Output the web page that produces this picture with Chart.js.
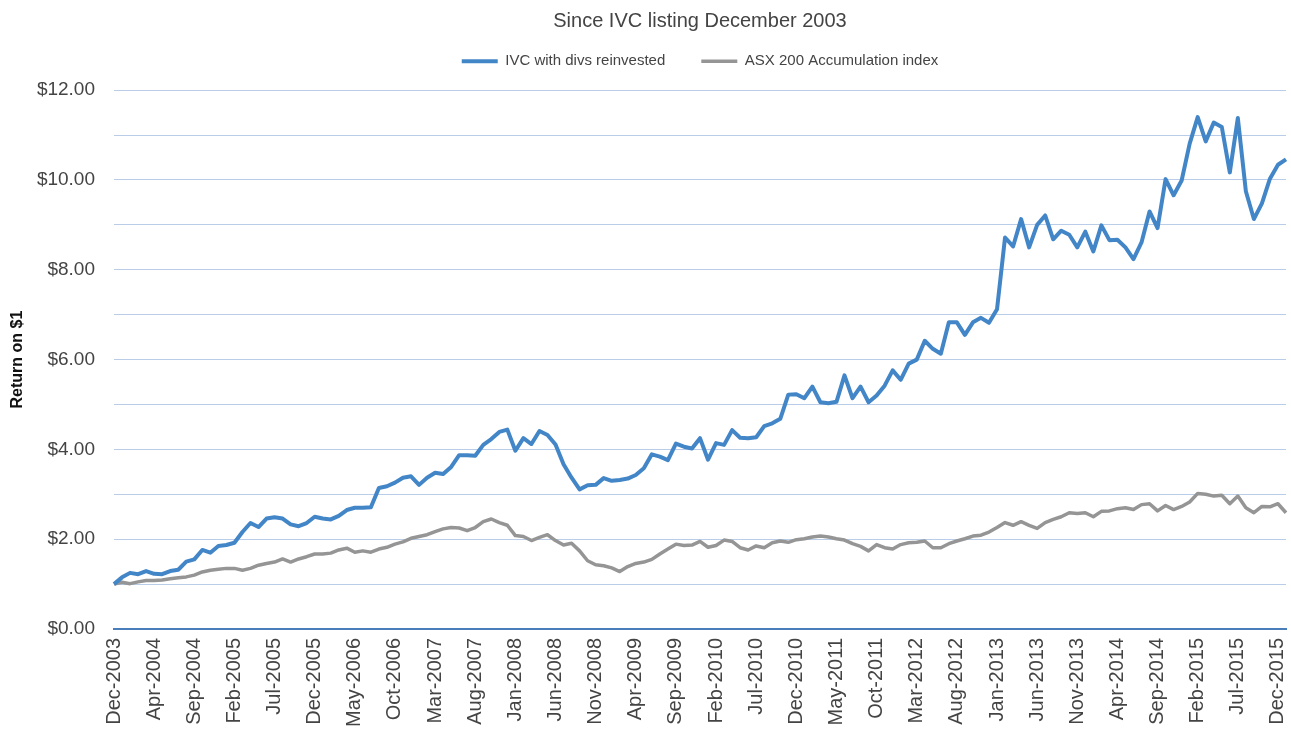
<!DOCTYPE html>
<html>
<head>
<meta charset="utf-8">
<script src="https://cdn.jsdelivr.net/npm/chart.js@4.4.1/dist/chart.umd.min.js"></script>
<style>
  html, body { margin: 0; padding: 0; background: #ffffff; }
  #c { display: block; }
</style>
</head>
<body>
<canvas id="c" width="1291" height="729"></canvas>
<script>
// ---- Data ----
const chartTitle = "Since IVC listing December 2003";
const yAxisTitle = "Return on $1";
const seriesNames = ["IVC with divs reinvested", "ASX 200 Accumulation index"];

const categories = [
  "Dec-2003","Dec-2003",
  "Jan-2004","Feb-2004","Mar-2004","Apr-2004","May-2004","Jun-2004","Jul-2004","Aug-2004","Sep-2004","Oct-2004","Nov-2004","Dec-2004",
  "Jan-2005","Feb-2005","Mar-2005","Apr-2005","May-2005","Jun-2005","Jul-2005","Aug-2005","Sep-2005","Oct-2005","Nov-2005","Dec-2005",
  "Jan-2006","Feb-2006","Mar-2006","Apr-2006","May-2006","Jun-2006","Jul-2006","Aug-2006","Sep-2006","Oct-2006","Nov-2006","Dec-2006",
  "Jan-2007","Feb-2007","Mar-2007","Apr-2007","May-2007","Jun-2007","Jul-2007","Aug-2007","Sep-2007","Oct-2007","Nov-2007","Dec-2007",
  "Jan-2008","Feb-2008","Mar-2008","Apr-2008","May-2008","Jun-2008","Jul-2008","Aug-2008","Sep-2008","Oct-2008","Nov-2008","Dec-2008",
  "Jan-2009","Feb-2009","Mar-2009","Apr-2009","May-2009","Jun-2009","Jul-2009","Aug-2009","Sep-2009","Oct-2009","Nov-2009","Dec-2009",
  "Jan-2010","Feb-2010","Mar-2010","Apr-2010","May-2010","Jun-2010","Jul-2010","Aug-2010","Sep-2010","Oct-2010","Nov-2010","Dec-2010",
  "Jan-2011","Feb-2011","Mar-2011","Apr-2011","May-2011","Jun-2011","Jul-2011","Aug-2011","Sep-2011","Oct-2011","Nov-2011","Dec-2011",
  "Jan-2012","Feb-2012","Mar-2012","Apr-2012","May-2012","Jun-2012","Jul-2012","Aug-2012","Sep-2012","Oct-2012","Nov-2012","Dec-2012",
  "Jan-2013","Feb-2013","Mar-2013","Apr-2013","May-2013","Jun-2013","Jul-2013","Aug-2013","Sep-2013","Oct-2013","Nov-2013","Dec-2013",
  "Jan-2014","Feb-2014","Mar-2014","Apr-2014","May-2014","Jun-2014","Jul-2014","Aug-2014","Sep-2014","Oct-2014","Nov-2014","Dec-2014",
  "Jan-2015","Feb-2015","Mar-2015","Apr-2015","May-2015","Jun-2015","Jul-2015","Aug-2015","Sep-2015","Oct-2015","Nov-2015","Dec-2015",
  "Jan-2016"
];

const ivcValues = [
  1.00,1.15,1.25,1.22,1.29,1.23,1.22,1.29,1.32,1.50,
  1.55,1.76,1.70,1.85,1.87,1.92,2.16,2.36,2.27,2.46,
  2.49,2.46,2.33,2.29,2.36,2.50,2.46,2.44,2.52,2.65,
  2.70,2.70,2.71,3.14,3.18,3.26,3.37,3.40,3.21,3.37,
  3.48,3.45,3.61,3.87,3.87,3.86,4.10,4.23,4.39,4.44,
  3.97,4.25,4.12,4.41,4.32,4.11,3.67,3.37,3.11,3.20,
  3.21,3.36,3.30,3.32,3.35,3.43,3.58,3.89,3.84,3.76,
  4.13,4.06,4.02,4.25,3.77,4.14,4.10,4.43,4.26,4.25,
  4.27,4.52,4.58,4.68,5.22,5.23,5.14,5.40,5.05,5.03,
  5.06,5.65,5.14,5.40,5.05,5.20,5.42,5.76,5.55,5.91,
  6.00,6.42,6.24,6.13,6.83,6.83,6.55,6.83,6.93,6.82,
  7.12,8.72,8.52,9.13,8.50,9.00,9.21,8.68,8.87,8.78,
  8.50,8.85,8.41,8.99,8.66,8.67,8.50,8.24,8.61,9.30,
  8.93,10.02,9.66,9.99,10.81,11.40,10.86,11.28,11.18,10.17,
  11.38,9.75,9.13,9.48,10.03,10.34,10.46
];

const asxValues = [
  1.00,1.04,1.01,1.05,1.08,1.08,1.09,1.12,1.14,1.16,
  1.20,1.27,1.31,1.33,1.35,1.35,1.31,1.35,1.42,1.46,
  1.49,1.56,1.49,1.56,1.61,1.67,1.67,1.69,1.76,1.80,
  1.71,1.74,1.71,1.78,1.82,1.89,1.94,2.02,2.06,2.10,
  2.17,2.23,2.26,2.25,2.19,2.26,2.39,2.45,2.37,2.31,
  2.08,2.06,1.97,2.04,2.10,1.97,1.87,1.91,1.74,1.52,
  1.43,1.41,1.36,1.28,1.39,1.46,1.49,1.55,1.67,1.78,
  1.89,1.86,1.87,1.95,1.82,1.86,1.98,1.95,1.81,1.76,
  1.85,1.81,1.92,1.96,1.93,1.99,2.01,2.05,2.07,2.05,
  2.01,1.98,1.90,1.84,1.74,1.88,1.81,1.78,1.88,1.92,
  1.93,1.96,1.81,1.81,1.90,1.96,2.01,2.07,2.09,2.16,
  2.26,2.37,2.31,2.39,2.31,2.24,2.37,2.44,2.50,2.59,
  2.57,2.59,2.50,2.62,2.63,2.68,2.70,2.66,2.77,2.79,
  2.63,2.75,2.66,2.73,2.83,3.02,3.00,2.96,2.98,2.79,
  2.96,2.70,2.59,2.73,2.72,2.79,2.59
];

const yMin = 0, yMax = 12, yGridStep = 0.5, yLabelStep = 2;
const xLabelStep = 5;

// ---- Chart ----
const FONT = "'Liberation Sans', 'Helvetica Neue', Arial, sans-serif";
const TEXT = "#444444";

const legendSpacer = {
  id: 'legendSpacer',
  beforeInit(chart) {
    const fit = chart.legend.fit;
    chart.legend.fit = function () {
      fit.call(this);
      this.height += 11.5;
    };
  }
};

new Chart(document.getElementById('c'), {
  type: 'line',
  data: {
    labels: categories,
    datasets: [
      {
        label: seriesNames[0],
        data: ivcValues,
        borderColor: '#4386c8',
        backgroundColor: '#4386c8',
        borderWidth: 4,
        pointRadius: 0,
        tension: 0,
        borderJoinStyle: 'round'
      },
      {
        label: seriesNames[1],
        data: asxValues,
        borderColor: '#959595',
        backgroundColor: '#959595',
        borderWidth: 3.5,
        pointRadius: 0,
        tension: 0,
        borderJoinStyle: 'round'
      }
    ]
  },
  options: {
    responsive: false,
    animation: false,
    devicePixelRatio: 1,
    layout: { padding: { left: 0, right: 5, top: 0, bottom: 0 } },
    plugins: {
      title: {
        display: true,
        text: chartTitle,
        fullSize: false,
        color: TEXT,
        font: { family: FONT, size: 20, weight: 'normal' },
        padding: { top: 9, bottom: -15.3 }
      },
      legend: {
        display: true,
        position: 'top',
        fullSize: false,
        labels: {
          usePointStyle: true,
          pointStyle: 'line',
          pointStyleWidth: 36,
          color: TEXT,
          font: { family: FONT, size: 15 },
          padding: 36
        }
      },
      tooltip: { enabled: false }
    },
    scales: {
      x: {
        type: 'category',
        grid: { display: false, drawTicks: false },
        border: { display: true, color: '#4a7ebb', width: 2 },
        ticks: {
          autoSkip: false,
          maxRotation: 90,
          minRotation: 90,
          padding: 9,
          color: TEXT,
          font: { family: FONT, size: 20 },
          callback: function (value, index) {
            return index % xLabelStep === 0 ? this.getLabelForValue(value) : '';
          }
        },
        afterFit: (scale) => {
          scale.height = 100;
          scale.paddingLeft = 0;
          scale.paddingRight = 0;
        }
      },
      y: {
        min: yMin,
        max: yMax,
        grid: {
          drawTicks: false,
          color: (ctx) => (ctx.tick && ctx.tick.value === 0 ? '#4a7ebb' : '#b9cce8'),
          lineWidth: (ctx) => (ctx.tick && ctx.tick.value === 0 ? 2 : 1)
        },
        border: { display: false },
        ticks: {
          stepSize: yGridStep,
          padding: 19,
          color: TEXT,
          font: { family: FONT, size: 19 },
          callback: (v) => (Math.abs(v / yLabelStep - Math.round(v / yLabelStep)) < 1e-9 ? '$' + v.toFixed(2) : '')
        },
        title: {
          display: true,
          text: yAxisTitle,
          color: '#111111',
          font: { family: FONT, size: 16, weight: 'bold' },
          padding: { top: 8, bottom: 0 }
        },
        afterFit: (scale) => { scale.width = 114; }
      }
    }
  },
  plugins: [legendSpacer]
});
</script>
</body>
</html>
